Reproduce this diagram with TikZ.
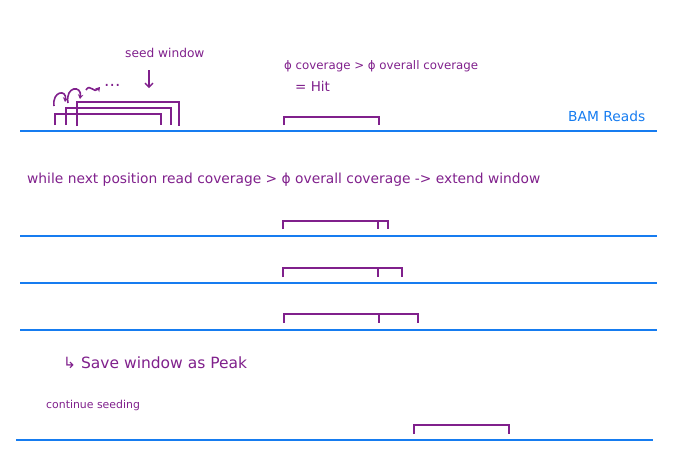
\documentclass[tikz,border=0pt]{standalone}
\usepackage{fontspec}
\setmainfont{DejaVu Sans}
\usetikzlibrary{arrows.meta}
\definecolor{pen}{RGB}{128,32,140}
\definecolor{readblue}{RGB}{22,124,240}
\tikzset{
  readline/.style={readblue, line width=2.8pt},
  win/.style={pen, line width=1.7pt},
  note/.style={pen, anchor=west, inner sep=0pt, font=\fontsize{11}{13}\selectfont},
  curl/.style={pen, line width=1.6pt, -{Stealth[length=4.5pt,width=5.5pt]}},
}
\begin{document}
\begin{tikzpicture}[x=1pt,y=-1pt]
\useasboundingbox (0,0) rectangle (691,474);
% read lines
\draw[readline] (20,131) -- (657,131);
\draw[readline] (20,236) -- (657,236);
\draw[readline] (20,283) -- (657,283);
\draw[readline] (20,330) -- (657,330);
\draw[readline] (16,440) -- (653,440);
% seed windows
\draw[win] (55,125) |- (161,114) -- (161,125);
\draw[win] (66,125) |- (171,108) -- (171,125);
\draw[win] (77,126) |- (179,102) -- (179,126);
% curled arrows and dots
\draw[curl] (54,106) .. controls (52,91) and (67,89) .. (65,102);
\draw[curl] (68,103) .. controls (65,86) and (82,85) .. (80,99);
\draw[curl] (86,90) .. controls (90,83) and (94,94) .. (100,87);
\node[note, font=\fontsize{17}{19}\selectfont] (dots) at (104,85) {...};
% texts
\node[note, font=\fontsize{12.2}{14}\selectfont] (seed) at (125,53) {seed window};
\coordinate (arrA) at (149,70);
\coordinate (arrB) at (149,88);
\draw[pen, line width=1.3pt, -{Straight Barb[length=4pt,width=8pt]}] (arrA) -- (arrB);
\node[note, font=\fontsize{11.8}{14}\selectfont] (cov) at (284,66) {ϕ coverage > ϕ overall coverage};
\node[note, font=\fontsize{13.5}{15}\selectfont] (hit) at (295,86) {= Hit};
\node[note, readblue, font=\fontsize{13.8}{16}\selectfont] (bam) at (568,116) {BAM Reads};
% hit window
\draw[win] (284,125) |- (379,117) -- (379,125);
% extend line
\node[note, font=\fontsize{13.8}{16}\selectfont] (while) at (27,180) {while next position read coverage > ϕ overall coverage -> extend window};
% extension steps
\draw[win] (283,229) |- (388,221) -- (388,229);
\draw[win] (378,221) -- (378,229);
\draw[win] (283,277) |- (402,268) -- (402,277);
\draw[win] (378,268) -- (378,277);
\draw[win] (284,323) |- (418,314) -- (418,323);
\draw[win] (379,314) -- (379,323);
% peak
\node[note, font=\fontsize{15.5}{18}\selectfont] (save) at (63,363) {↳ Save window as Peak};
\node[note, font=\fontsize{10.9}{13}\selectfont] (cont) at (46,405) {continue seeding};
\draw[win] (414,434) |- (509,425) -- (509,434);
\end{tikzpicture}
\end{document}
